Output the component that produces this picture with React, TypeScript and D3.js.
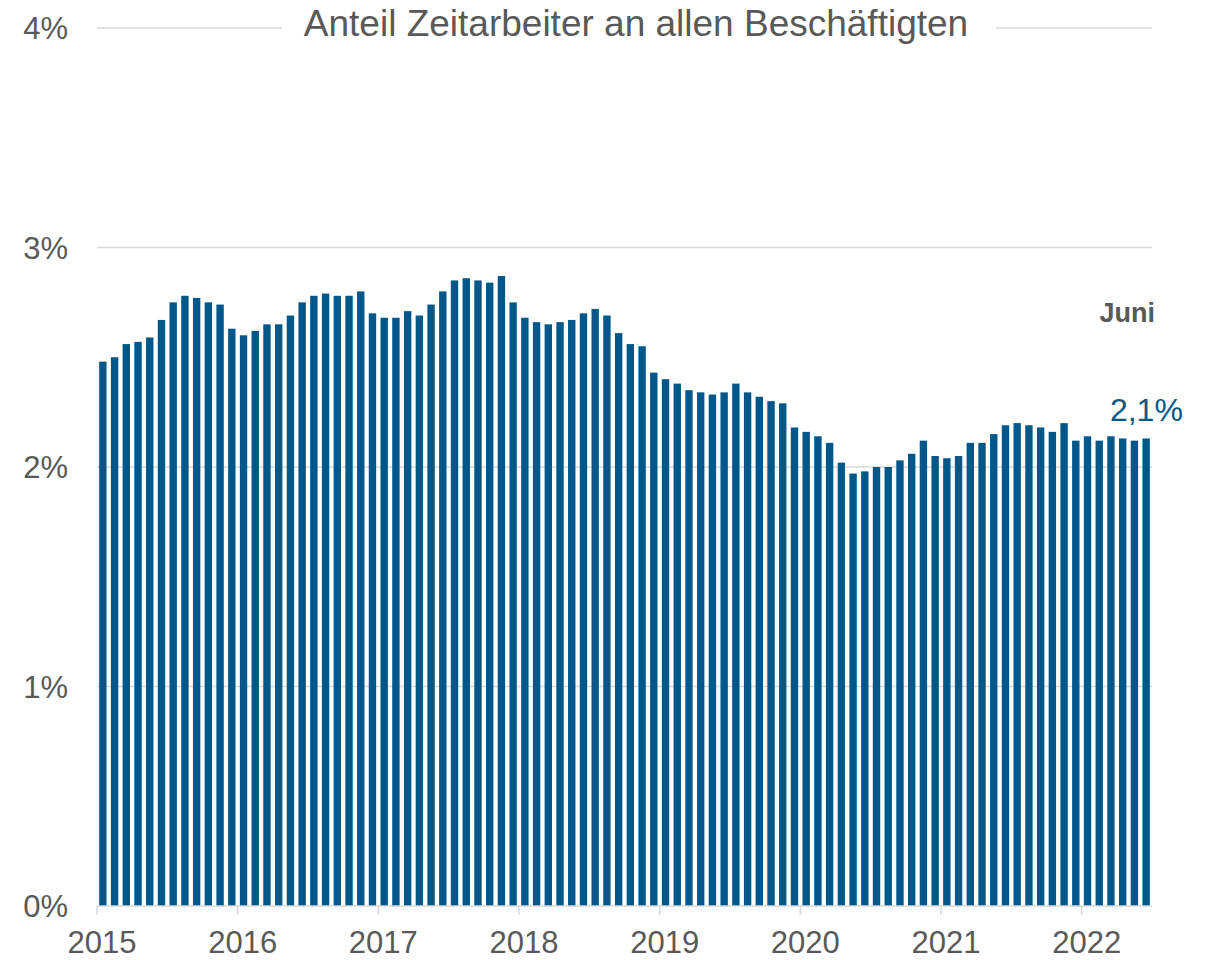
import React, { useEffect, useRef } from 'react';
import * as d3 from 'd3';

const width = 1207;
const height = 960;
const margin = { top: 28, right: 55, bottom: 54, left: 97 };

// Anteil Zeitarbeiter, monatlich Jan 2015 bis Jun 2022 (in %)
const shares2015 = [2.48, 2.50, 2.56, 2.57, 2.59, 2.67, 2.75, 2.78, 2.77, 2.75, 2.74, 2.63];
const shares2016 = [2.60, 2.62, 2.65, 2.65, 2.69, 2.75, 2.78, 2.79, 2.78, 2.78, 2.80, 2.70];
const shares2017 = [2.68, 2.68, 2.71, 2.69, 2.74, 2.80, 2.85, 2.86, 2.85, 2.84, 2.87, 2.75];
const shares2018 = [2.68, 2.66, 2.65, 2.66, 2.67, 2.70, 2.72, 2.69, 2.61, 2.56, 2.55, 2.43];
const shares2019 = [2.40, 2.38, 2.35, 2.34, 2.33, 2.34, 2.38, 2.34, 2.32, 2.30, 2.29, 2.18];
const shares2020 = [2.16, 2.14, 2.11, 2.02, 1.97, 1.98, 2.00, 2.00, 2.03, 2.06, 2.12, 2.05];
const shares2021 = [2.04, 2.05, 2.11, 2.11, 2.15, 2.19, 2.20, 2.19, 2.18, 2.16, 2.20, 2.12];
const shares2022 = [2.14, 2.12, 2.14, 2.13, 2.12, 2.13];

const years = [2015, 2016, 2017, 2018, 2019, 2020, 2021, 2022];
const yTicks = [0, 1, 2, 3, 4];
const title = 'Anteil Zeitarbeiter an allen Beschäftigten';
const lastMonthLabel = 'Juni';
const lastValueLabel = '2,1%';

const values = [
  ...shares2015, ...shares2016, ...shares2017, ...shares2018,
  ...shares2019, ...shares2020, ...shares2021, ...shares2022,
];
const data = values.map((v, i) => ({
  key: `${years[0] + Math.floor(i / 12)}-${(i % 12) + 1}`,
  year: years[0] + Math.floor(i / 12),
  month: i % 12,
  value: v,
}));

const barColor = '#00578a';
const textColor = '#595959';
const gridColor = '#d9d9d9';
const font = '"Liberation Sans", Arial, sans-serif';

function App() {
  const ref = useRef<SVGSVGElement>(null);

  useEffect(() => {
    const svg = d3.select(ref.current);
    svg.selectAll('*').remove();

    const x = d3.scaleBand<string>()
      .domain(data.map(d => d.key))
      .range([margin.left, width - margin.right])
      .paddingInner(0.37)
      .paddingOuter(0.185);

    const y = d3.scaleLinear()
      .domain([0, 4])
      .range([height - margin.bottom, margin.top]);

    // gridlines (4% line is interrupted by the title)
    const titleGap = [282, 996];
    const grid = svg.append('g');
    yTicks.filter(t => t > 0).forEach(t => {
      const segs = t === 4
        ? [[margin.left, titleGap[0]], [titleGap[1], width - margin.right]]
        : [[margin.left, width - margin.right]];
      segs.forEach(([a, b]) => {
        grid.append('line')
          .attr('x1', a).attr('x2', b)
          .attr('y1', y(t)).attr('y2', y(t))
          .attr('stroke', gridColor).attr('stroke-width', 1.5);
      });
    });

    // y labels
    svg.append('g')
      .selectAll('text')
      .data(yTicks)
      .join('text')
      .attr('x', 68)
      .attr('y', d => y(d) + 11)
      .attr('text-anchor', 'end')
      .attr('font-family', font)
      .attr('font-size', 31)
      .attr('fill', textColor)
      .text(d => `${d}%`);

    // bars
    svg.append('g')
      .selectAll('rect')
      .data(data)
      .join('rect')
      .attr('x', d => x(d.key)!)
      .attr('width', x.bandwidth())
      .attr('y', d => y(d.value))
      .attr('height', d => y(0) - y(d.value))
      .attr('fill', barColor);

    // x axis line + year ticks
    const step = x.step();
    svg.append('line')
      .attr('x1', margin.left).attr('x2', width - margin.right)
      .attr('y1', y(0)).attr('y2', y(0))
      .attr('stroke', gridColor).attr('stroke-width', 1.5);

    const yearX = (yr: number) => margin.left + (yr - years[0]) * 12 * step;
    const xAxis = svg.append('g');
    years.forEach(yr => {
      xAxis.append('line')
        .attr('x1', yearX(yr)).attr('x2', yearX(yr))
        .attr('y1', y(0)).attr('y2', y(0) + 9)
        .attr('stroke', gridColor).attr('stroke-width', 1.5);
      xAxis.append('text')
        .attr('x', yearX(yr) + 5)
        .attr('y', y(0) + 47)
        .attr('text-anchor', 'middle')
        .attr('font-family', font)
        .attr('font-size', 31)
        .attr('fill', textColor)
        .text(yr);
    });

    // title
    svg.append('text')
      .attr('x', 636)
      .attr('y', y(4) + 8)
      .attr('text-anchor', 'middle')
      .attr('font-family', font)
      .attr('font-size', 37)
      .attr('fill', textColor)
      .text(title);

    // annotation for last value
    const last = data[data.length - 1];
    svg.append('text')
      .attr('x', width - margin.right + 3)
      .attr('y', 322)
      .attr('text-anchor', 'end')
      .attr('font-family', font)
      .attr('font-size', 27)
      .attr('font-weight', 'bold')
      .attr('fill', textColor)
      .text(lastMonthLabel);

    svg.append('text')
      .attr('x', x(last.key)! + x.bandwidth() + 33)
      .attr('y', y(last.value) - 17)
      .attr('text-anchor', 'end')
      .attr('font-family', font)
      .attr('font-size', 32)
      .attr('fill', barColor)
      .text(lastValueLabel);
  }, []);

  return (
    <svg ref={ref} width={width} height={height}
      style={{ position: 'absolute', left: 0, top: 0, background: '#fff' }} />
  );
}

export default App;
